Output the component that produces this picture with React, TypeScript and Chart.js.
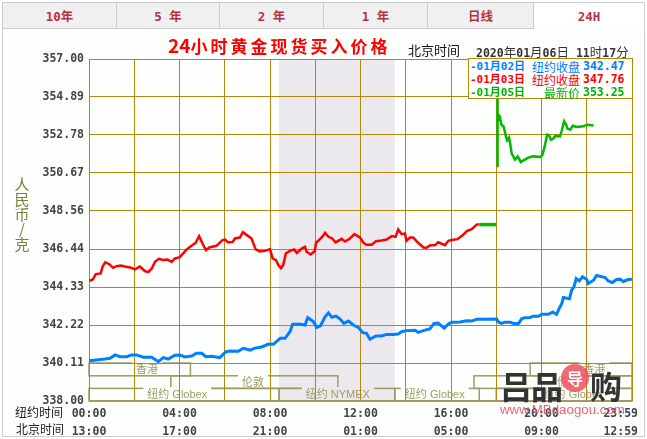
import React, { useEffect, useRef } from 'react';
import { Chart, registerables } from 'chart.js';

Chart.register(...registerables);

const tabs = ['10年', '5 年', '2 年', '1 年', '日线', '24H'];
const tabEdges = [2, 116, 219, 323, 427, 533, 644];

const yTicks = [338, 340.11, 342.22, 344.33, 346.44, 348.56, 350.67, 352.78, 354.89, 357];
const gridMinutes = [0, 120, 240, 360, 480, 600, 720, 840, 960, 1080, 1200, 1320, 1440];
const tickLabels: Record<number, string[]> = {
  0: ['00:00', '13:00'],
  240: ['04:00', '17:00'],
  480: ['08:00', '21:00'],
  720: ['12:00', '01:00'],
  960: ['16:00', '05:00'],
  1200: ['20:00', '09:00'],
  1410: ['23:59', '12:59'],
};

const blueMinutes = [1, 20, 42, 56, 69, 82, 100, 113, 126, 144, 166, 184, 197, 210, 228, 241, 254, 272, 285, 299, 310, 325, 347, 363, 374, 396, 409, 427, 440, 458, 475, 480, 489, 507, 520, 533, 540, 560, 573, 580, 595, 604, 614, 626, 635, 644, 655, 666, 676, 688, 701, 714, 726, 736, 745, 761, 776, 789, 807, 820, 829, 842, 865, 873, 891, 904, 915, 926, 942, 953, 962, 984, 1002, 1015, 1028, 1081, 1086, 1094, 1103, 1117, 1125, 1139, 1148, 1156, 1170, 1178, 1192, 1201, 1218, 1230, 1240, 1247, 1254, 1258, 1274, 1280, 1286, 1292, 1300, 1309, 1320, 1324, 1338, 1346, 1369, 1377, 1388, 1399, 1408, 1417, 1430, 1440];
const bluePrices = [340.24, 340.28, 340.33, 340.37, 340.56, 340.46, 340.46, 340.56, 340.56, 340.43, 340.43, 340.19, 340.41, 340.33, 340.54, 340.56, 340.45, 340.5, 340.65, 340.65, 340.46, 340.48, 340.41, 340.74, 340.78, 340.76, 340.93, 340.83, 340.94, 341, 341.15, 341.17, 341.15, 341.48, 341.48, 341.85, 342.26, 342.26, 342.22, 342.63, 342.41, 342.09, 342.18, 342.68, 342.9, 342.65, 342.72, 342.55, 342.31, 342.44, 342.22, 342.09, 341.8, 341.76, 341.43, 341.61, 341.61, 341.7, 341.7, 341.72, 341.85, 341.91, 341.93, 341.81, 341.94, 342, 342.31, 342.33, 342.04, 342.28, 342.37, 342.39, 342.46, 342.44, 342.54, 342.55, 342.38, 342.31, 342.38, 342.38, 342.31, 342.31, 342.58, 342.62, 342.64, 342.71, 342.71, 342.82, 342.82, 342.94, 342.81, 343.14, 343.42, 343.75, 343.68, 344.16, 344.34, 344.8, 344.67, 344.9, 344.75, 344.53, 344.71, 344.97, 344.86, 344.67, 344.58, 344.75, 344.77, 344.64, 344.75, 344.77];

const redMinutes = [1, 10, 18, 31, 36, 43, 54, 64, 73, 84, 95, 109, 122, 135, 148, 157, 166, 175, 185, 197, 208, 219, 228, 241, 259, 272, 283, 292, 301, 310, 319, 338, 354, 361, 369, 381, 387, 400, 408, 418, 431, 442, 453, 467, 480, 487, 496, 502, 509, 515, 522, 533, 544, 551, 564, 573, 577, 588, 599, 602, 608, 620, 626, 635, 645, 654, 670, 679, 692, 704, 719, 728, 736, 750, 761, 776, 789, 803, 813, 820, 829, 838, 842, 851, 860, 873, 887, 895, 904, 918, 926, 944, 953, 962, 977, 991, 1002, 1015, 1028, 1035];
const redPrices = [344.68, 344.75, 345.05, 345.09, 345.46, 345.7, 345.6, 345.4, 345.49, 345.53, 345.47, 345.42, 345.31, 345.47, 345.22, 345.16, 345.35, 345.73, 345.9, 345.84, 345.86, 345.73, 345.92, 345.99, 346.42, 346.62, 346.79, 347.16, 346.75, 346.38, 346.53, 346.62, 346.94, 346.97, 346.81, 346.84, 347.03, 347.08, 347.38, 347.23, 347.03, 346.42, 346.31, 346.34, 346.44, 345.92, 345.83, 345.55, 345.38, 345.55, 346.2, 346.34, 346.42, 346.23, 346.47, 346.57, 346.29, 346.14, 346.34, 346.79, 346.9, 347.16, 347.34, 347.12, 347.03, 346.81, 347.01, 346.86, 347.03, 347.27, 347.08, 346.79, 346.68, 346.68, 346.88, 346.92, 346.97, 347.16, 347.12, 347.53, 347.27, 347.31, 346.9, 347.08, 347.08, 346.79, 346.53, 346.51, 346.64, 346.66, 346.82, 346.66, 346.9, 346.94, 346.99, 347.21, 347.44, 347.55, 347.8, 347.82];

const greenMinutes = [1035, 1080, 1081, 1082, 1083, 1084, 1087, 1090, 1093, 1099, 1102, 1106, 1109, 1114, 1117, 1121, 1130, 1137, 1145, 1156, 1165, 1178, 1196, 1202, 1207, 1211, 1215, 1220, 1225, 1231, 1236, 1249, 1254, 1260, 1265, 1269, 1276, 1283, 1293, 1311, 1322, 1338];
const greenPrices = [347.8, 347.8, null, 351.06, 354.81, 353.5, 353.87, 353.78, 353.37, 353.26, 353.04, 352.67, 352.48, 352.63, 352.3, 351.74, 351.41, 351.59, 351.28, 351.41, 351.52, 351.59, 351.56, 351.65, 352.02, 352.39, 352.8, 352.76, 352.52, 352.57, 352.72, 352.7, 353.04, 353.54, 353.37, 353.13, 353.07, 353.29, 353.22, 353.26, 353.35, 353.3];

// trading sessions along the bottom of the plot, row 0 is the top one
const sessionRows = [340.11, 339.4, 338.7, 338];
const nymexStart = 504;
const nymexEnd = 811;
const sessions = [
  { name: '香港', start: 0, end: 269, row: 0, at: 154 },
  { name: '香港', start: 1170, end: 1440, row: 0, at: 1340 },
  { name: '伦敦', start: 217, end: 660, row: 1, at: 435 },
  { name: '伦敦', start: 1021, end: 1440, row: 1, at: 1270 },
  { name: '纽约 Globex', start: 0, end: nymexStart, row: 2, at: 234 },
  { name: '纽约 NYMEX', start: nymexStart, end: nymexEnd, row: 2, at: 660 },
  { name: '纽约 Globex', start: nymexEnd, end: 1035, row: 2, at: 917 },
  { name: '纽约 Globex', start: 1080, end: 1440, row: 2, at: 1285 },
];

const GOLD = '#b8860b';
const OLIVE = '#a09a62';
const SHADE = '#ece9ee';
const PAPER = '#fdfffd';
const MONO = '"DejaVu Sans Mono", "Noto Sans CJK SC", monospace';
const CJK = '"Noto Sans CJK SC", sans-serif';

const toPoints = (xs: number[], ys: (number | null)[]) => xs.map((x, i) => ({ x, y: ys[i] }));

const sessionPlugin = {
  id: 'sessions',
  beforeDraw(chart: any) {
    const { ctx, scales, chartArea } = chart;
    const x = scales.x;
    const y = scales.y;
    ctx.save();
    ctx.fillStyle = SHADE;
    ctx.fillRect(x.getPixelForValue(nymexStart), chartArea.top, x.getPixelForValue(nymexEnd) - x.getPixelForValue(nymexStart), chartArea.bottom - chartArea.top);
    ctx.strokeStyle = OLIVE;
    ctx.lineWidth = 1.5;
    ctx.font = '11px "Liberation Sans", "Noto Sans CJK SC", sans-serif';
    ctx.textAlign = 'center';
    ctx.textBaseline = 'middle';
    sessions.forEach((s) => {
      const x0 = x.getPixelForValue(s.start);
      const x1 = x.getPixelForValue(s.end);
      const top = y.getPixelForValue(sessionRows[s.row]);
      const bottom = y.getPixelForValue(sessionRows[s.row + 1]);
      ctx.strokeRect(x0, top, x1 - x0, bottom - top);
      const cx = x.getPixelForValue(s.at);
      const w = ctx.measureText(s.name).width;
      ctx.fillStyle = s.at > nymexStart && s.at < nymexEnd && s.row === 2 ? SHADE : PAPER;
      ctx.fillRect(cx - w / 2 - 4, top - 1.5, w + 8, bottom - top);
      ctx.fillStyle = OLIVE;
      ctx.fillText(s.name, cx, (top + bottom) / 2 + 0.5);
    });
    ctx.restore();
  },
};

function GoldChart() {
  const canvasRef = useRef<HTMLCanvasElement | null>(null);

  useEffect(() => {
    const canvas = canvasRef.current;
    if (!canvas) return;
    const chart = new Chart(canvas, {
      type: 'line',
      data: {
        datasets: [
          {
            label: '01月05日',
            data: toPoints(greenMinutes, greenPrices),
            borderColor: '#00b800',
            borderWidth: 2.5,
            pointRadius: 0,
            spanGaps: false,
            segment: { borderWidth: (c: any) => (c.p0.parsed.x < 1081 ? 3.5 : 2.5) },
          },
          { label: '01月03日', data: toPoints(redMinutes, redPrices), borderColor: '#ff0000', borderWidth: 2.5, pointRadius: 0 },
          { label: '01月02日', data: toPoints(blueMinutes, bluePrices), borderColor: '#0080ff', borderWidth: 3, pointRadius: 0 },
        ],
      } as any,
      options: {
        animation: false,
        responsive: false,
        devicePixelRatio: 1,
        layout: { padding: { top: 59, right: 15, left: 0, bottom: 0 } },
        plugins: { legend: { display: false }, tooltip: { enabled: false } },
        scales: {
          x: {
            type: 'linear',
            min: 0,
            max: 1440,
            afterBuildTicks: (scale: any) => {
              scale.ticks = [...gridMinutes, 1410].sort((a, b) => a - b).map((value) => ({ value }));
            },
            afterFit: (scale: any) => {
              scale.height = 38;
            },
            grid: {
              color: (c: any) => (c.tick && c.tick.value === 1410 ? 'rgba(0,0,0,0)' : GOLD),
              lineWidth: 1,
              drawTicks: false,
            },
            border: { display: false },
            ticks: {
              autoSkip: false,
              maxRotation: 0,
              padding: 5,
              color: '#444',
              font: { family: MONO, size: 11.5, weight: 'bold', lineHeight: 1.48 },
              callback: (value: any) => tickLabels[value] || '',
            },
          },
          y: {
            min: 338,
            max: 357,
            afterBuildTicks: (scale: any) => {
              scale.ticks = yTicks.map((value) => ({ value }));
            },
            afterFit: (scale: any) => {
              scale.width = 89;
            },
            grid: {
              color: (c: any) => (c.tick && c.tick.value === 338 ? OLIVE : GOLD),
              lineWidth: (c: any) => (c.tick && c.tick.value === 338 ? 2 : 1),
              drawTicks: false,
            },
            border: { display: false },
            ticks: {
              autoSkip: false,
              padding: 5,
              color: '#444',
              font: { family: MONO, size: 11.5, weight: 'bold' },
              callback: (value: any) => Number(value).toFixed(2),
            },
          },
        },
      } as any,
      plugins: [sessionPlugin],
    });
    return () => chart.destroy();
  }, []);

  return <canvas ref={canvasRef} width={647} height={439} style={{ position: 'absolute', left: 0, top: 0 }} />;
}

const abs = (left: number, top: number, extra: React.CSSProperties = {}): React.CSSProperties => ({
  position: 'absolute',
  left,
  top,
  whiteSpace: 'nowrap',
  ...extra,
});

const legendRows = [
  { color: '#0080ff', date: '-01月02日', note: '纽约收盘', price: '342.47' },
  { color: '#ff0000', date: '-01月03日', note: '纽约收盘', price: '347.76' },
  { color: '#00b400', date: '-01月05日', note: '最新价', price: '353.25' },
];

export default function App() {
  return (
    <div style={{ position: 'absolute', left: 0, top: 0, width: 647, height: 439, overflow: 'hidden', background: '#fff' }}>
      <div style={abs(13, 30, { width: 630, height: 405, background: PAPER })} />
      <GoldChart />

      {/* outer frame */}
      <div style={abs(2, 2, { width: 641, height: 433, border: '1px solid #ccc', pointerEvents: 'none' })} />

      {tabs.map((t, i) => (
        <div
          key={t}
          style={abs(tabEdges[i], 2, {
            width: tabEdges[i + 1] - tabEdges[i],
            height: 27,
            boxSizing: 'border-box',
            background: i === 5 ? '#fff' : '#f0f0f0',
            borderTop: '1px solid #ccc',
            borderLeft: '1px solid #ccc',
            borderBottom: i === 5 ? 'none' : '1px solid #ccc',
            color: '#b5323f',
            font: `bold 12.5px/27px ${MONO}`,
            textAlign: 'center',
          })}
        >
          {t}
        </div>
      ))}

      <div style={abs(168, 35, { color: '#ff0000', font: `bold 17px/20px ${CJK}`, letterSpacing: 3 })}>
        <span style={{ letterSpacing: 0, fontSize: 19 }}>24</span>小时黄金现货买入价格
      </div>
      <div style={abs(408, 42, { color: '#111', font: `13px/16px ${CJK}` })}>北京时间</div>
      <div style={abs(476, 42, { color: '#333', font: `bold 11.5px/16px ${MONO}` })}>
        2020<span style={{ font: `12.5px ${CJK}` }}>年</span>01<span style={{ font: `12.5px ${CJK}` }}>月</span>06
        <span style={{ font: `12.5px ${CJK}` }}>日</span> 11<span style={{ font: `12.5px ${CJK}` }}>时</span>17
        <span style={{ font: `12.5px ${CJK}` }}>分</span>
      </div>

      <div style={abs(468, 58, { width: 163, height: 39, border: `1px solid ${GOLD}`, background: '#fff' })}>
        {legendRows.map((r, i) => (
          <div key={r.date} style={{ position: 'absolute', left: 0, top: 1 + i * 13, width: 163, height: 13, color: r.color, font: `bold 11.5px/13px ${MONO}` }}>
            <span style={abs(1, 0, { font: `bold 11px/13px ${MONO}` })}>{r.date}</span>
            <span style={abs(0, 0, { left: 'auto', right: 52, font: `12px/13px ${CJK}` })}>{r.note}</span>
            <span style={abs(114, 0)}>{r.price}</span>
          </div>
        ))}
      </div>

      <div style={abs(14, 176, { width: 16, color: '#7f7f40', font: `15px/15px ${CJK}`, textAlign: 'center' })}>
        {['人', '民', '币', '/', '克'].map((c, i) => (
          <div key={i}>{c}</div>
        ))}
      </div>

      <div style={abs(15, 405, { color: '#222', font: `12px/14px ${CJK}` })}>纽约时间</div>
      <div style={abs(16, 422, { color: '#222', font: `12px/14px ${CJK}` })}>北京时间</div>

      {/* watermark */}
      <div style={abs(561, 364, { width: 28, height: 28, borderRadius: 14, background: '#f0505f', opacity: 0.85 })} />
      <div style={abs(500, 368, { color: '#333', font: `bold 32px/34px ${CJK}`, letterSpacing: -1 })}>吕品</div>
      <div style={abs(567, 370, { color: '#fff', font: `bold 16px/16px ${CJK}` })}>导</div>
      <div style={abs(590, 368, { color: '#333', font: `bold 32px/34px ${CJK}` })}>购</div>
      <div style={abs(500, 402, { color: '#f0506a', font: '13.3px/16px "Liberation Sans", sans-serif', opacity: 0.9 })}>www.MBdaogou.com</div>
    </div>
  );
}
